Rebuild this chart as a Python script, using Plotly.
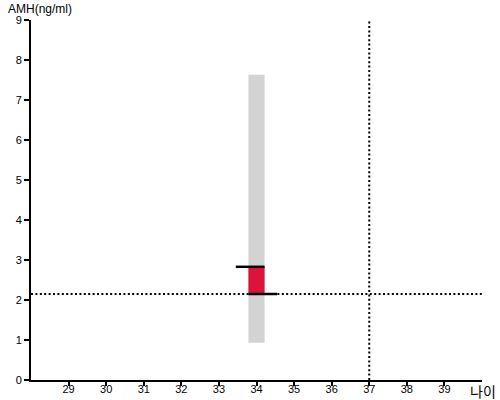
import plotly.graph_objects as go

# Data
ages = [34]
normal_low = [0.93]
normal_high = [7.63]
amh_value = [2.83]
threshold_amh = 2.15
threshold_age = 37
x_ticks = [29, 30, 31, 32, 33, 34, 35, 36, 37, 38, 39]
y_ticks = [0, 1, 2, 3, 4, 5, 6, 7, 8, 9]
x_range = [28, 40]
y_range = [0, 9]

BAR_W = 0.43
fig = go.Figure()

# normal range (gray)
fig.add_trace(go.Bar(
    x=ages, y=[h - l for h, l in zip(normal_high, normal_low)], base=normal_low,
    width=BAR_W, marker=dict(color="#d3d3d3", line=dict(width=0)), hoverinfo="skip"))
# measured part above threshold (red)
fig.add_trace(go.Bar(
    x=ages, y=[v - threshold_amh for v in amh_value], base=[threshold_amh] * len(ages),
    width=BAR_W, marker=dict(color="#dc143c", line=dict(width=0)), hoverinfo="skip"))

# threshold dotted lines
dot = "2px,2.4px"
fig.add_trace(go.Scatter(x=x_range, y=[threshold_amh, threshold_amh], mode="lines",
                         line=dict(color="black", width=2, dash=dot), hoverinfo="skip"))
fig.add_trace(go.Scatter(x=[threshold_age, threshold_age], y=y_range, mode="lines",
                         line=dict(color="black", width=2, dash=dot), hoverinfo="skip"))

# marker lines at value and threshold
for a, v in zip(ages, amh_value):
    fig.add_trace(go.Scatter(x=[a - 0.55, a + BAR_W / 2], y=[v, v], mode="lines",
                             line=dict(color="black", width=2.5), hoverinfo="skip"))
    fig.add_trace(go.Scatter(x=[a - BAR_W / 2, a + 0.55], y=[threshold_amh, threshold_amh], mode="lines",
                             line=dict(color="black", width=2.5), hoverinfo="skip"))

axis_font = dict(family="Liberation Sans, Arial, sans-serif", size=11, color="black")
fig.update_layout(
    width=500, height=400,
    margin=dict(l=31, r=18, t=20, b=20, autoexpand=False),
    paper_bgcolor="white", plot_bgcolor="white",
    showlegend=False, barmode="overlay",
    xaxis=dict(range=x_range, tickvals=x_ticks, ticktext=[str(t) for t in x_ticks],
               showline=True, linecolor="black", linewidth=2, ticks="outside",
               ticklen=4, tickwidth=1.5, tickcolor="black", showgrid=False,
               zeroline=False, tickfont=axis_font, fixedrange=True, automargin=False,
               ticklabelstandoff=-6),
    yaxis=dict(range=y_range, tickvals=y_ticks, ticktext=[str(t) for t in y_ticks],
               showline=True, linecolor="black", linewidth=2, ticks="outside",
               ticklen=5, tickwidth=1.5, tickcolor="black", showgrid=False,
               zeroline=False, tickfont=axis_font, fixedrange=True, automargin=False),
    annotations=[
        dict(text="AMH(ng/ml)", xref="paper", yref="paper", x=-0.0555, y=1.03,
             xanchor="left", yanchor="middle", showarrow=False,
             font=dict(family="Liberation Sans, Arial, sans-serif", size=12, color="black")),
        dict(text="나이", xref="paper", yref="paper", x=1.0033, y=-0.0306,
             xanchor="center", yanchor="middle", showarrow=False,
             font=dict(family="Noto Sans CJK KR, sans-serif", size=14, color="black")),
    ],
)

fig.write_html("out.html", config={"displayModeBar": False},
               post_script="document.body.style.margin='0';document.body.style.overflow='hidden';")
